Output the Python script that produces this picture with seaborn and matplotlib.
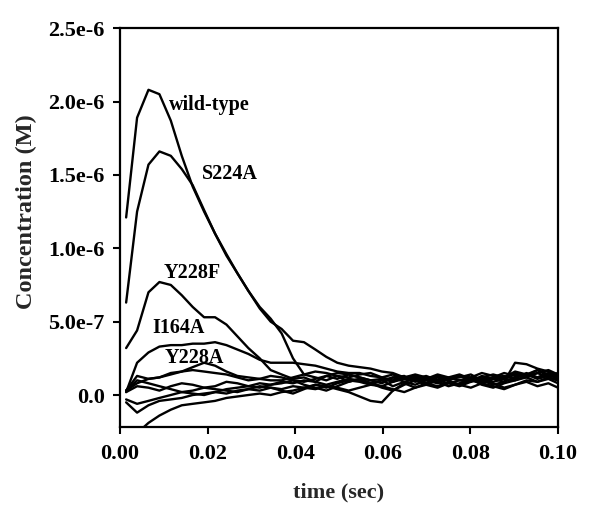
import numpy as np
import pandas as pd
import matplotlib
matplotlib.use("Agg")
import matplotlib.pyplot as plt
import seaborn as sns

# ---- data (concentration in units of 1e-6 M) ----
time = [0.0014, 0.0039, 0.0065, 0.0090, 0.0116, 0.0141, 0.0166, 0.0192, 0.0217, 0.0243,
        0.0268, 0.0293, 0.0319, 0.0344, 0.0369, 0.0395, 0.0420, 0.0446, 0.0471, 0.0496,
        0.0522, 0.0547, 0.0572, 0.0598, 0.0623, 0.0649, 0.0674, 0.0699, 0.0725, 0.0750,
        0.0775, 0.0801, 0.0826, 0.0852, 0.0877, 0.0902, 0.0928, 0.0953, 0.0978, 0.1000]

wild_type = [1.21, 1.89, 2.08, 2.05, 1.87, 1.63, 1.42, 1.25, 1.10, 0.95,
             0.83, 0.71, 0.59, 0.50, 0.45, 0.37, 0.36, 0.31, 0.26, 0.22,
             0.20, 0.19, 0.18, 0.16, 0.15, 0.12, 0.13, 0.11, 0.12, 0.10,
             0.13, 0.11, 0.12, 0.14, 0.12, 0.16, 0.14, 0.17, 0.13, 0.15]
s224a = [0.63, 1.25, 1.57, 1.66, 1.63, 1.54, 1.43, 1.26, 1.10, 0.96,
         0.83, 0.71, 0.60, 0.52, 0.42, 0.25, 0.14, 0.12, 0.10, 0.13,
         0.09, 0.11, 0.08, 0.10, 0.06, 0.09, 0.11, 0.08, 0.12, 0.10,
         0.07, 0.10, 0.12, 0.09, 0.11, 0.10, 0.13, 0.15, 0.12, 0.10]
y228f = [0.32, 0.44, 0.70, 0.77, 0.75, 0.68, 0.60, 0.53, 0.53, 0.48,
         0.40, 0.32, 0.25, 0.17, 0.14, 0.11, 0.12, 0.09, 0.13, 0.11,
         0.14, 0.12, 0.10, 0.08, 0.12, 0.13, 0.09, 0.11, 0.14, 0.12,
         0.10, 0.09, 0.13, 0.11, 0.12, 0.15, 0.13, 0.17, 0.14, 0.12]
i164a = [0.02, 0.22, 0.29, 0.33, 0.34, 0.34, 0.35, 0.35, 0.36, 0.34,
         0.31, 0.28, 0.24, 0.22, 0.22, 0.22, 0.21, 0.20, 0.18, 0.16,
         0.15, 0.15, 0.13, 0.12, 0.14, 0.11, 0.12, 0.10, 0.13, 0.11,
         0.12, 0.14, 0.10, 0.12, 0.13, 0.11, 0.15, 0.12, 0.14, 0.11]
y228a = [0.03, 0.08, 0.11, 0.12, 0.14, 0.16, 0.19, 0.22, 0.20, 0.16,
         0.13, 0.12, 0.11, 0.10, 0.10, 0.12, 0.14, 0.16, 0.15, 0.13,
         0.12, 0.14, 0.15, 0.12, 0.10, 0.12, 0.11, 0.13, 0.10, 0.12,
         0.14, 0.11, 0.09, 0.12, 0.15, 0.13, 0.14, 0.12, 0.15, 0.13]
trace_u1 = [0.03, 0.13, 0.11, 0.12, 0.15, 0.16, 0.17, 0.16, 0.15, 0.14,
            0.12, 0.10, 0.11, 0.13, 0.12, 0.10, 0.09, 0.11, 0.13, 0.15,
            0.14, 0.12, 0.10, 0.11, 0.09, 0.12, 0.14, 0.12, 0.10, 0.11,
            0.13, 0.12, 0.10, 0.07, 0.09, 0.22, 0.21, 0.18, 0.16, 0.13]
trace_u2 = [0.02, 0.06, 0.05, 0.03, 0.06, 0.08, 0.07, 0.05, 0.06, 0.09,
            0.08, 0.06, 0.05, 0.07, 0.08, 0.10, 0.07, 0.05, 0.03, 0.06,
            0.09, 0.11, 0.08, 0.05, 0.03, 0.07, 0.10, 0.12, 0.09, 0.06,
            0.08, 0.11, 0.07, 0.05, 0.08, 0.10, 0.12, 0.09, 0.11, 0.08]
trace_u3 = [-0.05, -0.12, -0.07, -0.04, -0.03, -0.02, 0.00, 0.01, 0.02, 0.01,
            0.03, 0.04, 0.03, 0.05, 0.04, 0.06, 0.05, 0.07, 0.06, 0.04,
            0.02, -0.01, -0.04, -0.05, 0.03, 0.08, 0.05, 0.07, 0.10, 0.08,
            0.06, 0.09, 0.11, 0.08, 0.05, 0.07, 0.10, 0.09, 0.12, 0.10]
trace_u4 = [-0.32, -0.26, -0.19, -0.14, -0.10, -0.07, -0.06, -0.05, -0.04, -0.02,
            -0.01, 0.00, 0.01, 0.00, 0.02, 0.03, 0.05, 0.04, 0.06, 0.05,
            0.03, 0.05, 0.07, 0.06, 0.04, 0.02, 0.05, 0.08, 0.06, 0.09,
            0.07, 0.05, 0.08, 0.06, 0.04, 0.07, 0.09, 0.06, 0.08, 0.05]
trace_u5 = [0.03, 0.10, 0.08, 0.06, 0.04, 0.02, 0.03, 0.05, 0.04, 0.03,
            0.02, 0.04, 0.06, 0.05, 0.03, 0.01, 0.04, 0.07, 0.05, 0.08,
            0.10, 0.09, 0.07, 0.10, 0.12, 0.09, 0.07, 0.10, 0.08, 0.11,
            0.13, 0.10, 0.08, 0.11, 0.09, 0.12, 0.14, 0.11, 0.13, 0.12]
trace_u6 = [-0.03, -0.06, -0.04, -0.02, 0.00, 0.02, 0.01, 0.00, 0.02, 0.04,
            0.05, 0.06, 0.08, 0.07, 0.09, 0.08, 0.10, 0.09, 0.07, 0.09,
            0.11, 0.10, 0.08, 0.06, 0.09, 0.11, 0.10, 0.07, 0.05, 0.08,
            0.10, 0.12, 0.15, 0.13, 0.11, 0.14, 0.12, 0.15, 0.17, 0.14]

series = {
    "wild-type": wild_type, "S224A": s224a, "Y228F": y228f,
    "I164A": i164a, "Y228A": y228a,
    "u1": trace_u1, "u2": trace_u2, "u3": trace_u3,
    "u4": trace_u4, "u5": trace_u5, "u6": trace_u6,
}

# label text and anchor (time, concentration in 1e-6 M)
label_names = ["wild-type", "S224A", "Y228F", "I164A", "Y228A"]
label_x = [0.0111, 0.0186, 0.0099, 0.0073, 0.0103]
label_y = [1.94, 1.47, 0.80, 0.42, 0.22]

x_ticks = [0.00, 0.02, 0.04, 0.06, 0.08, 0.10]
x_tick_labels = ["0.00", "0.02", "0.04", "0.06", "0.08", "0.10"]
y_ticks = [0.0, 0.5, 1.0, 1.5, 2.0, 2.5]
y_tick_labels = ["0.0", "5.0e-7", "1.0e-6", "1.5e-6", "2.0e-6", "2.5e-6"]

SCALE = 1e-6

rows = []
for name, vals in series.items():
    for t, v in zip(time, vals):
        rows.append({"time": t, "conc": v * SCALE, "trace": name})
df = pd.DataFrame(rows)

sns.set_style("ticks")
plt.rcParams["font.family"] = ["Liberation Serif", "DejaVu Serif"]
plt.rcParams["font.weight"] = "bold"

fig = plt.figure(figsize=(6.0, 5.12), dpi=100)
ax = fig.add_axes([0.200, 0.166, 0.730, 0.779])

sns.lineplot(data=df, x="time", y="conc", hue="trace", units="trace",
             estimator=None, palette=["black"] * len(series), legend=False,
             linewidth=1.7, sort=False, ax=ax)

for name, lx, ly in zip(label_names, label_x, label_y):
    ax.text(lx, ly * SCALE, name, fontsize=14.5, fontweight="bold",
            ha="left", va="baseline", color="black")

ax.set_xlim(0.0, 0.10)
ax.set_ylim(-0.218e-6, 2.5e-6)
ax.set_xticks(x_ticks)
ax.set_xticklabels(x_tick_labels)
ax.set_yticks([v * SCALE for v in y_ticks])
ax.set_yticklabels(y_tick_labels)

for side in ["left", "bottom", "top", "right"]:
    ax.spines[side].set_visible(True)
    ax.spines[side].set_linewidth(1.6)
    ax.spines[side].set_color("black")

ax.tick_params(axis="both", direction="out", length=5, width=1.5,
               labelsize=16, colors="black")
ax.tick_params(axis="x", pad=7)
ax.tick_params(axis="y", pad=6)
for lab in ax.get_xticklabels() + ax.get_yticklabels():
    lab.set_fontweight("bold")

ax.set_xlabel("time (sec)", fontsize=16, fontweight="bold")
ax.set_ylabel("Concentration (M)", fontsize=17.5, fontweight="bold")
ax.xaxis.set_label_coords(0.5, -0.138)
ax.yaxis.set_label_coords(-0.19, 0.539)

fig.savefig("out.png", dpi=100)
